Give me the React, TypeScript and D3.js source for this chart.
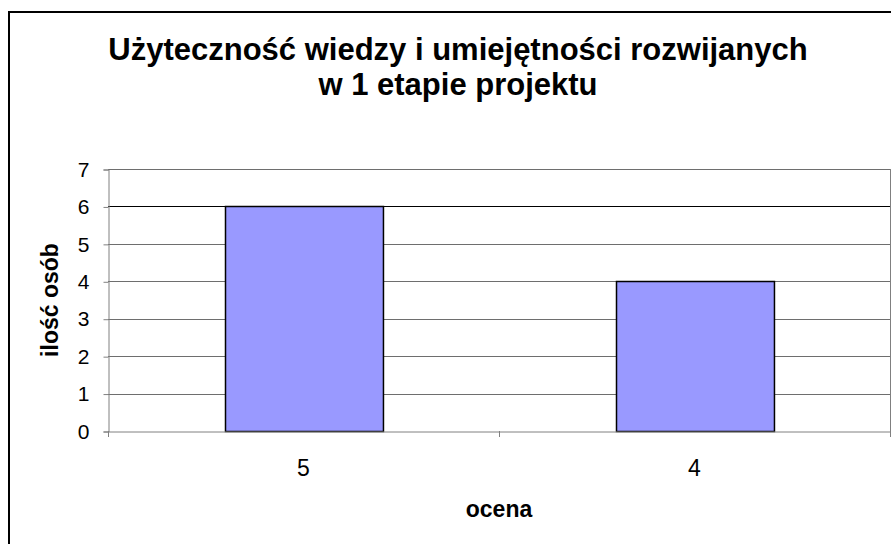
import React, { useEffect, useRef } from 'react';
import * as d3 from 'd3';

const categories = ['5', '4'];
const values = [6, 4];
const yTicks = [0, 1, 2, 3, 4, 5, 6, 7];
const titleLines = ['Użyteczność wiedzy i umiejętności rozwijanych', 'w 1 etapie projektu'];
const xTitle = 'ocena';
const yTitle = 'ilość osób';

const App: React.FC = () => {
  const svgRef = useRef<SVGSVGElement>(null);

  useEffect(() => {
    if (!svgRef.current) return;
    const svg = d3.select(svgRef.current);
    svg.selectAll('*').remove();

    const W = 891;
    const H = 544;
    const plot = { left: 108, right: 890, top: 169, bottom: 431 };
    const font = 'Arial, "Liberation Sans", sans-serif';

    svg.attr('width', W).attr('height', H);

    svg.append('rect').attr('width', W).attr('height', H).attr('fill', '#fff');

    // outer frame (runs off the right/bottom edge)
    svg.append('rect')
      .attr('x', 9).attr('y', 12)
      .attr('width', W + 50).attr('height', H + 50)
      .attr('fill', 'none').attr('stroke', '#000').attr('stroke-width', 2);

    const x = d3.scaleBand<string>()
      .domain(categories)
      .range([plot.left, plot.right])
      .paddingInner(0.596)
      .paddingOuter(0.298);

    const y = d3.scaleLinear().domain([0, 7]).range([plot.bottom, plot.top]);

    // gridlines
    svg.append('g')
      .selectAll('line')
      .data(yTicks.filter(d => d > 0))
      .join('line')
      .attr('x1', plot.left).attr('x2', plot.right)
      .attr('y1', d => Math.round(y(d)) + 0.5).attr('y2', d => Math.round(y(d)) + 0.5)
      .attr('stroke', d => (d === 6 ? '#000' : '#6e6e6e'))
      .attr('stroke-width', 1);

    // right border of plot
    svg.append('line')
      .attr('x1', plot.right + 0.5).attr('x2', plot.right + 0.5)
      .attr('y1', plot.top).attr('y2', plot.bottom)
      .attr('stroke', '#808080');

    // bars
    svg.append('g')
      .selectAll('rect')
      .data(categories)
      .join('rect')
      .attr('x', d => Math.round(x(d)!) + 0.5)
      .attr('y', (d, i) => Math.round(y(values[i])) + 0.5)
      .attr('width', x.bandwidth())
      .attr('height', (d, i) => Math.round(y(0)) - Math.round(y(values[i])))
      .attr('fill', '#9999ff')
      .attr('stroke', '#000')
      .attr('stroke-width', 1.5);

    // y axis
    const yAxis = svg.append('g')
      .attr('transform', `translate(${plot.left + 0.5},0.5)`)
      .call(d3.axisLeft(y).tickValues(yTicks).tickSize(5).tickPadding(14).tickFormat(d3.format('d')));
    yAxis.select('.domain').attr('stroke', '#808080');
    yAxis.selectAll('.tick line').attr('stroke', '#808080');
    yAxis.selectAll('.tick text')
      .attr('font-family', font).attr('font-size', 21).attr('fill', '#000');

    // x axis
    const xAxis = svg.append('g')
      .attr('transform', `translate(0,${Math.round(plot.bottom) + 0.5})`)
      .call(d3.axisBottom(x).tickSize(0));
    xAxis.select('.domain').attr('stroke', '#808080');
    xAxis.selectAll('.tick text')
      .attr('y', 44).attr('dy', null)
      .attr('font-family', font).attr('font-size', 23).attr('fill', '#000');

    // category boundary ticks
    const bounds = [plot.left, (plot.left + plot.right) / 2, plot.right];
    svg.append('g')
      .selectAll('line')
      .data(bounds)
      .join('line')
      .attr('x1', d => Math.round(d) + 0.5).attr('x2', d => Math.round(d) + 0.5)
      .attr('y1', plot.bottom).attr('y2', plot.bottom + 6)
      .attr('stroke', '#808080');

    // title
    svg.append('text')
      .attr('x', 458).attr('y', 60)
      .attr('text-anchor', 'middle')
      .attr('font-family', font).attr('font-weight', 'bold').attr('font-size', 31)
      .selectAll('tspan')
      .data(titleLines)
      .join('tspan')
      .attr('x', 458)
      .attr('dy', (d, i) => (i === 0 ? 0 : 35))
      .text(d => d);

    // axis titles
    svg.append('text')
      .attr('x', (plot.left + plot.right) / 2).attr('y', 517)
      .attr('text-anchor', 'middle')
      .attr('font-family', font).attr('font-weight', 'bold').attr('font-size', 23)
      .text(xTitle);

    svg.append('text')
      .attr('transform', `translate(58,${(plot.top + plot.bottom) / 2}) rotate(-90)`)
      .attr('text-anchor', 'middle')
      .attr('font-family', font).attr('font-weight', 'bold').attr('font-size', 23)
      .text(yTitle);
  }, []);

  return <svg ref={svgRef} style={{ position: 'absolute', left: 0, top: 0, display: 'block' }} />;
};

export default App;
